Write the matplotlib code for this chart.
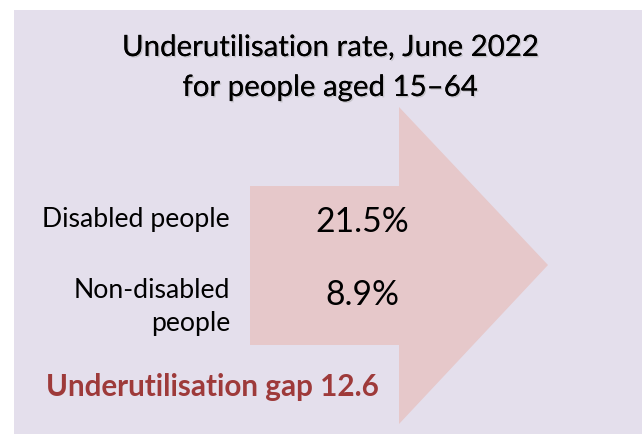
import matplotlib
matplotlib.use("Agg")
import matplotlib.pyplot as plt
from matplotlib.patches import Rectangle, Polygon
import matplotlib.patheffects as pe

title_lines = ["Underutilisation rate, June 2022", "for people aged 15\u201364"]
categories = ["Disabled people", "Non-disabled\npeople"]
values = [21.5, 8.9]
gap_label = "Underutilisation gap"
gap = round(values[0] - values[1], 1)

plt.rcParams['font.family'] = ['Lato', 'DejaVu Sans']

W, H = 642, 434
fig = plt.figure(figsize=(W / 100, H / 100), dpi=100)
ax = fig.add_axes([0, 0, 1, 1])
ax.set_xlim(0, W)
ax.set_ylim(H, 0)
ax.axis('off')
fig.patch.set_facecolor('white')

# background panel
ax.add_patch(Rectangle((14, 10), W - 14, H - 10, facecolor='#E4DFEC', edgecolor='none'))

# arrow shape
arrow = Polygon([(250, 186), (399, 186), (399, 107), (548, 265), (399, 424),
                 (399, 345), (250, 345)], closed=True,
                facecolor='#E6C8CA', edgecolor='none')
ax.add_patch(arrow)

shadow = [pe.withSimplePatchShadow(offset=(1, -1), shadow_rgbFace='#999999', alpha=0.4), pe.Normal()]
ax.text(330, 48, title_lines[0], ha='center', va='center', fontsize=21.2, color='black',
        path_effects=shadow)
ax.text(330, 88, title_lines[1], ha='center', va='center', fontsize=21.2, color='black',
        path_effects=shadow)

label_y = [220, 307]
value_y = [222, 295]
for cat, val, ly, vy in zip(categories, values, label_y, value_y):
    ax.text(230, ly, cat, ha='right', va='center', fontsize=19.2, color='black',
            linespacing=1.42)
    ax.text(362, vy, f"{val}%", ha='center', va='center', fontsize=24.2, color='black')

ax.text(46, 387, f"{gap_label} {gap}", ha='left', va='center', fontsize=21.3,
        fontweight='bold', color='#9E3A3A')

fig.savefig('out.png', dpi=100)
